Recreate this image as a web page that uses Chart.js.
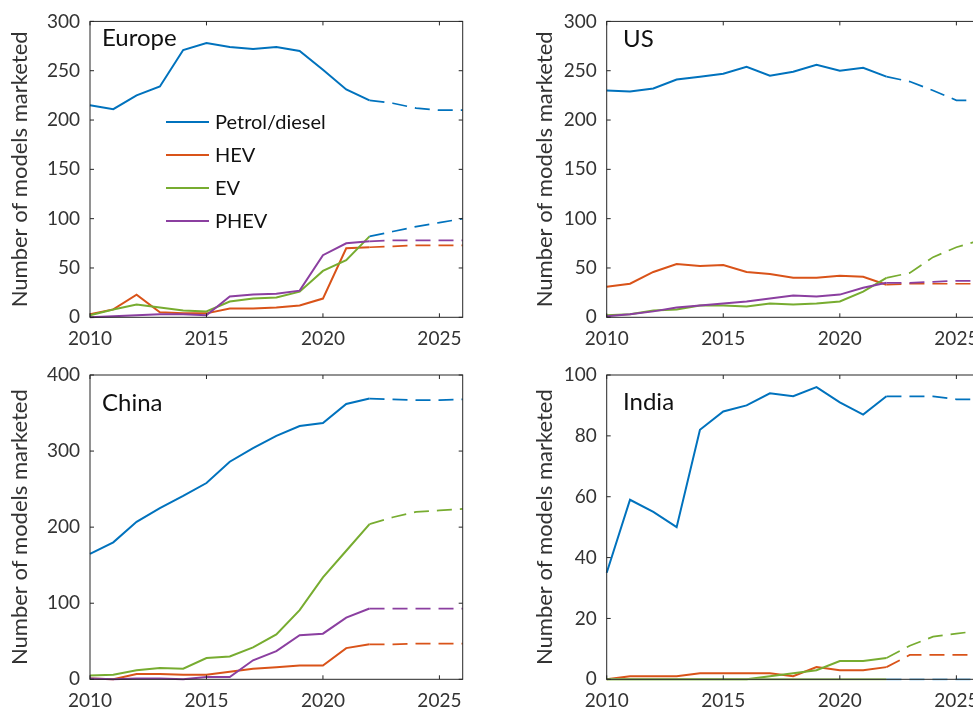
<!DOCTYPE html>
<html>
<head>
<meta charset="utf-8">
<script src="https://cdn.jsdelivr.net/npm/chart.js@4.4.1/dist/chart.umd.min.js"></script>
<style>
html,body{margin:0;padding:0;background:#fff;overflow:hidden;width:973px;height:713px;position:relative;}
.panel{position:absolute;}
canvas{display:block;}
</style>
</head>
<body>
<div class="panel" style="left:0px;top:0px"><canvas id="cEurope" width="480" height="360" style="width:480px;height:360px"></canvas></div>
<div class="panel" style="left:490px;top:0px"><canvas id="cUS" width="500" height="360" style="width:500px;height:360px"></canvas></div>
<div class="panel" style="left:0px;top:340px"><canvas id="cChina" width="480" height="373" style="width:480px;height:373px"></canvas></div>
<div class="panel" style="left:490px;top:340px"><canvas id="cIndia" width="500" height="373" style="width:500px;height:373px"></canvas></div>
<script>
// ---------- data ----------
const years = [2010,2011,2012,2013,2014,2015,2016,2017,2018,2019,2020,2021,2022,2023,2024,2025,2026];
const xTicks = [2010,2015,2020,2025];
const seriesNames = ['Petrol/diesel','HEV','EV','PHEV'];
const projectionStart = 2022;

const europePetrol = [215,211,225,234,271,278,274,272,274,270,251,231,220,217,212,210,210];
const europeHEV    = [3,8,23,5,4,4,9,9,10,12,19,70,71,72,73,73,73];
const europeEV     = [2,8,13,10,7,6,16,19,20,26,47,58,82,87,92,96,100];
const europePHEV   = [0,1,2,3,3,2,21,23,24,27,63,75,77,78,78,78,78];

const usPetrol = [230,229,232,241,244,247,254,245,249,256,250,253,244,239,230,220,220];
const usHEV    = [31,34,46,54,52,53,46,44,40,40,42,41,33,34,34,34,34];
const usEV     = [2,3,7,8,12,12,11,14,13,14,16,26,40,45,61,71,78];
const usPHEV   = [1,3,6,10,12,14,16,19,22,21,23,30,35,35,36,37,37];

const chinaPetrol = [165,180,207,225,241,258,286,304,320,333,337,362,369,368,367,367,368];
const chinaHEV    = [1,0,7,7,6,6,10,14,16,18,18,41,46,46,47,47,47];
const chinaEV     = [5,6,12,15,14,28,30,42,59,91,134,169,204,213,220,222,224];
const chinaPHEV   = [1,0,1,1,0,3,3,25,37,58,60,81,93,93,93,93,93];

const indiaPetrol = [35,59,55,50,82,88,90,94,93,96,91,87,93,93,93,92,92];
const indiaHEV    = [0,1,1,1,2,2,2,2,1,4,3,3,4,8,8,8,8];
const indiaEV     = [0,0,0,0,0,0,0,1,2,3,6,6,7,11,14,15,16];
const indiaPHEV   = [0,0,0,0,0,0,0,0,0,0,0,0,0,0,0,0,0];

const europeYTicks = {max:300, step:50};
const usYTicks     = {max:300, step:50};
const chinaYTicks  = {max:400, step:100};
const indiaYTicks  = {max:100, step:20};

// ---------- style ----------
const BLUE = '#0072BD', ORANGE = '#D95319', GREEN = '#77AC30', PURPLE = '#8B3FA0';
const colors = [BLUE, ORANGE, GREEN, PURPLE];
const FONT = 'Lato, "Open Sans", sans-serif';
const TXT = '#333333';

const framePlugin = {
  id: 'frame',
  afterDatasetsDraw(chart) {
    const {ctx, chartArea: a, scales: {x, y}} = chart;
    ctx.save();
    ctx.strokeStyle = '#262626';
    ctx.lineWidth = 1;
    ctx.strokeRect(a.left, a.top, a.right - a.left, a.bottom - a.top);
    const tl = 4;
    ctx.beginPath();
    x.ticks.forEach(t => {
      const px = x.getPixelForValue(t.value);
      ctx.moveTo(px, a.bottom); ctx.lineTo(px, a.bottom - tl);
      ctx.moveTo(px, a.top); ctx.lineTo(px, a.top + tl);
    });
    y.ticks.forEach(t => {
      const py = y.getPixelForValue(t.value);
      ctx.moveTo(a.left, py); ctx.lineTo(a.left + tl, py);
      ctx.moveTo(a.right, py); ctx.lineTo(a.right - tl, py);
    });
    ctx.stroke();
    ctx.restore();
  }
};

const annotPlugin = {
  id: 'annot',
  afterDraw(chart, args, opts) {
    const ctx = chart.ctx;
    ctx.save();
    ctx.fillStyle = '#111';
    ctx.textBaseline = 'alphabetic';
    ctx.textAlign = 'left';
    ctx.font = '24px ' + FONT;
    ctx.fillText(opts.text, opts.x, opts.y);
    if (opts.legend) {
      const L = opts.legend;
      ctx.font = '20px ' + FONT;
      chart.data.datasets.forEach((ds, i) => {
        const cy = L.y + i * L.dy;
        ctx.strokeStyle = colors[i];
        ctx.lineWidth = 2;
        ctx.beginPath();
        ctx.moveTo(L.x, cy); ctx.lineTo(L.x + L.len, cy);
        ctx.stroke();
        ctx.fillStyle = '#111';
        ctx.textBaseline = 'middle';
        ctx.fillText(ds.label, L.x + L.len + 6, cy + 1);
      });
    }
    ctx.restore();
  }
};

// lineColors / projColors: colour of the solid part and of the projected (dashed) part
function makeDatasets(arrs, lineColors, projColors) {
  return arrs.map((arr, i) => {
    const c = lineColors[i], pc = projColors[i];
    return {
      label: seriesNames[i],
      data: years.map((yr, k) => ({x: yr, y: arr[k]})),
      borderColor: c,
      backgroundColor: c,
      borderWidth: 2,
      pointRadius: 0,
      tension: 0,
      clip: false,
      order: 4 - i,
      segment: {
        borderDash: s => s.p0.parsed.x >= projectionStart ? [15, 8] : undefined,
        borderWidth: s => s.p0.parsed.x >= projectionStart ? 1.7 : undefined,
        borderColor: s => s.p0.parsed.x >= projectionStart ? pc : undefined
      }
    };
  });
}

function makeChart(id, arrs, yt, geo, label, lineColors, projColors) {
  return new Chart(document.getElementById(id), {
    type: 'line',
    data: {datasets: makeDatasets(arrs, lineColors || colors, projColors || colors)},
    plugins: [framePlugin, annotPlugin],
    options: {
      responsive: false,
      animation: false,
      devicePixelRatio: 1,
      layout: {padding: {left: 0, top: geo.T, right: geo.W - geo.R, bottom: 0}},
      plugins: {
        legend: {display: false},
        tooltip: {enabled: false},
        annot: label
      },
      scales: {
        x: {
          type: 'linear',
          min: 2010, max: 2026,
          grid: {display: false, drawTicks: false},
          border: {display: false},
          afterBuildTicks: s => { s.ticks = xTicks.map(v => ({value: v})); },
          afterFit: s => { s.height = geo.H - geo.B; },
          ticks: {
            autoSkip: false, maxRotation: 0, padding: 10,
            color: TXT, font: {family: FONT, size: 19},
            callback: v => String(v)
          }
        },
        y: {
          min: 0, max: yt.max,
          grid: {display: false, drawTicks: false},
          border: {display: false},
          afterFit: s => { s.width = geo.L; },
          ticks: {
            stepSize: yt.step, padding: 10,
            color: TXT, font: {family: FONT, size: 19},
            callback: v => String(v)
          },
          title: {
            display: true,
            text: 'Number of models marketed',
            color: TXT,
            font: {family: FONT, size: 22},
            padding: {top: geo.tp, bottom: 0}
          }
        }
      }
    }
  });
}

makeChart('cEurope', [europePetrol, europeHEV, europeEV, europePHEV], europeYTicks,
  {W: 480, H: 360, L: 90, R: 462.7, T: 12.7, B: 317.3, tp: 7},
  {text: 'Europe', x: 102, y: 46, legend: {x: 166, y: 122, dy: 33, len: 43}},
  colors, [BLUE, ORANGE, BLUE, PURPLE]);
makeChart('cUS', [usPetrol, usHEV, usEV, usPHEV], usYTicks,
  {W: 500, H: 360, L: 116.7, R: 489.7, T: 12.7, B: 317.3, tp: 42},
  {text: 'US', x: 133, y: 47});
makeChart('cChina', [chinaPetrol, chinaHEV, chinaEV, chinaPHEV], chinaYTicks,
  {W: 480, H: 373, L: 90, R: 462.7, T: 35, B: 339.3, tp: 7},
  {text: 'China', x: 102, y: 71});
makeChart('cIndia', [indiaPetrol, indiaHEV, indiaEV, indiaPHEV], indiaYTicks,
  {W: 500, H: 373, L: 116.7, R: 489.7, T: 35, B: 339.3, tp: 42},
  {text: 'India', x: 133, y: 70},
  [BLUE, ORANGE, GREEN, '#9CC46A'], [BLUE, ORANGE, GREEN, '#6CB8E6']);
</script>
</body>
</html>
